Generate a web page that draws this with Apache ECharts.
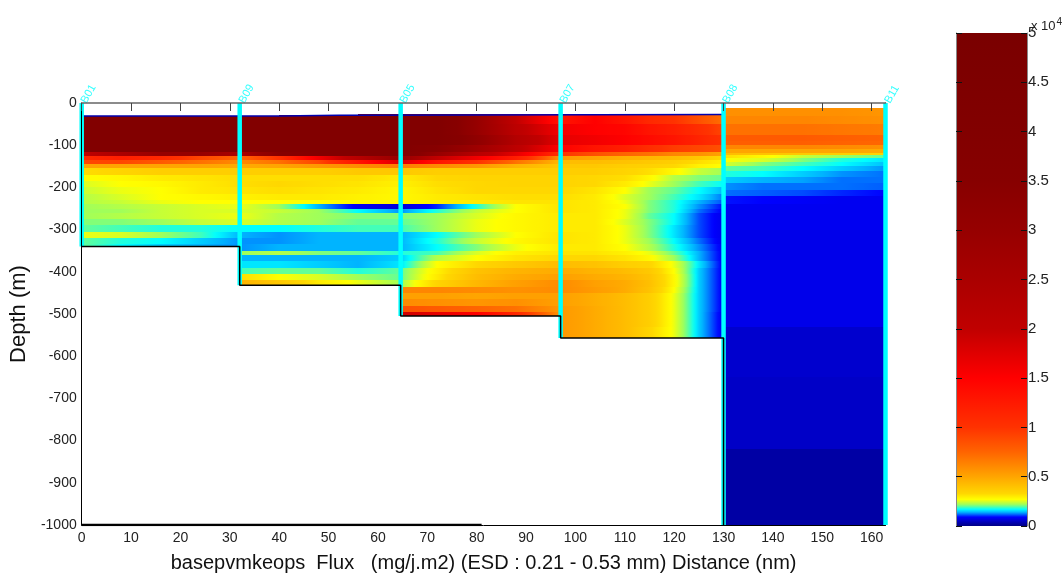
<!DOCTYPE html>
<html><head><meta charset="utf-8">
<style>html,body{margin:0;padding:0;background:#fff}#c{width:1064px;height:580px}</style>
<script src="https://cdn.jsdelivr.net/npm/echarts@6/dist/echarts.min.js"></script>
</head><body><div id="c"></div>
<script>
const n = null;
// Flux in units of 100 mg/j.m2 (colour bar 0-5 x 10^4 = 0-500 units)
const stations = ['B01','B09','B05','B07','B08','B11'];
const stationX = [0,32,64.6,97,130,162.8];
const stationBottom = [340,432,505,557,1000,1000];
const xTickLabels = [0,10,20,30,40,50,60,70,80,90,100,110,120,130,140,150,160];
// [value, colour] colour table
const colorValues = [0,3,6.5,9,12,14,17,20,22,27,33,50,75,100,150,200,250,300,350,400,500];
const colorHex = ['#000084','#0000aa','#0000dc','#0000ff','#0070ff','#00b4ff','#00ffff','#64ff96','#a0ff5a','#ffff00','#ffd700','#ffa500','#ff6400','#ff3200','#ff0000','#c00000','#aa0000','#960000','#870000','#820000','#7a0000'];

const westX = [0,8,16,24,32,40,48,56,64.6,72,80,88,97,104,110,115,120,125,130];
const westSpanTop = [31,31,31,31,31,28.5,28,27,27,27,27,27,27,27,27,27,27,27];
const westSpanBottom = [340,340,340,340,432,432,432,432,505,505,505,505,557,557,557,557,557,557];
const westEdges = [27,50,75,100,115,125,135,145,155,170,185,200,215,230,240,250,260,275,290,305,320,335,350,360,375,390,405,420,435,450,465,480,495,505,530,557];
const westFlux = [
[400,400,400,400,400,400,400,400,400,400,300,200,130,150,130,110,100,85,70],
[400,400,400,400,400,400,400,400,400,400,300,210,160,150,145,130,120,105,90],
[400,400,400,400,400,400,400,400,400,400,320,230,170,160,150,140,130,115,100],
[400,400,400,400,400,400,400,400,400,350,280,210,150,130,120,105,95,90,85],
[200,250,300,300,250,350,400,400,400,300,220,170,100,85,75,70,62,58,50],
[110,120,110,90,75,100,160,220,300,200,160,120,55,50,46,44,42,38,32],
[90,90,80,70,60,70,90,130,180,130,100,70,42,42,40,38,36,32,29],
[50,50,50,50,48,50,55,60,65,60,55,45,38,38,36,35,33,29,27],
[32,34,36,36,36,36,36,38,38,36,36,36,36,36,34,32,28,24,22],
[27,28,30,31,32,32,32,32,30,33,34,34,34,33,32,28,23,21,20],
[25,27,28,30,32,33,32,31,29,32,33,34,34,33,30,26,22,19,17],
[24,26,27,30,31,32,31,30,28,31,33,33,33,31,27,22,20,17,14],
[23,25,27,28,29,30,30,29,28,30,31,32,32,30,25,22,19,16,12],
[23,24,26,27,27,27,27,28,28,29,30,31,31,30,26,21,18,14,11],
[22,23,24,25,26,22,14,8,6,10,18,27,31,30,27,21,18,13,9],
[22,22,24,25,25,24,22,17,13,18,24,27,31,30,26,21,18,12,8.5],
[22,23,24,25,26,23,22,21,21,22,25,28,30,30,26,20,17,11,7.5],
[21,21,22,24,25,23,22,20,20,22,26,28,30,30,25,21,17,11,7.5],
[20,19,18,18,17,17,18,19,19,22,26,28,30,30,26,21,16,11,7.5],
[26,25,22,19,14,13,14,14,14,17,22,27,31,30,26,21,16,11,7.5],
[20,18,17,15,13,13,14,14,14,18,24,28,31,30,26,22,17,12,7.5],
[20,17,15,14,13,14,14,14,14,17,21,26,30,30,27,23,18,13,8],
[n,n,n,n,22,23,21,20,18,19,25,29,31,31,29,26,20,14,8],
[n,n,n,n,14,14,14,14,15,23,27,31,33,33,31,28,22,14,8],
[n,n,n,n,16,16,15,14,16,27,33,38,42,40,36,34,26,16,8],
[n,n,n,n,19,20,20,18,20,29,40,45,48,45,42,38,27,15,8],
[n,n,n,n,32,27,25,22,20,30,42,48,52,48,45,40,28,15,8],
[n,n,n,n,45,38,30,26,22,34,44,52,60,52,48,41,28,15,8],
[n,n,n,n,n,n,n,n,62,62,60,58,60,54,48,40,27,15,8],
[n,n,n,n,n,n,n,n,52,52,50,52,52,47,42,36,26,15,8],
[n,n,n,n,n,n,n,n,60,58,56,58,52,47,42,36,26,15,8],
[n,n,n,n,n,n,n,n,85,80,75,70,55,48,42,36,26,15,8],
[n,n,n,n,n,n,n,n,190,170,150,110,55,48,42,36,26,15,7.5],
[n,n,n,n,n,n,n,n,n,n,n,n,55,48,42,36,26,15,7.5],
[n,n,n,n,n,n,n,n,n,n,n,n,55,48,42,34,26,15,7.5]
];

const eastX = [130,138,146,154,162.8];
const eastEdges = [12,30,50,75,90,100,110,118,124,130,140,150,160,175,190,205,220,240,300,420,530,650,820,1000];
const eastFlux = [
[58,58,58,58,56],
[62,62,62,60,58],
[70,70,70,68,66],
[80,80,80,78,76],
[78,78,78,76,74],
[62,62,62,60,58],
[50,50,50,50,48],
[42,40,38,36,34],
[32,28,24,22,20],
[27,25,21,18,16],
[25,21,19,17,14.5],
[20,19,17,15,13],
[18,17,15,13,12],
[15,14,13.5,12,12],
[13,12,12,12,11.5],
[12,11.5,11,10,9],
[9.5,9,8.5,8,8],
[8,8,8,8,8],
[7.5,7.5,7.5,7.5,7.5],
[7.5,7.5,7.5,7.5,7.5],
[5.5,5.5,5.5,5.5,5.5],
[5,5,5,5,5],
[2.5,2.5,2.5,2.5,2.5]
];
const topLineX = [0,40,40,52,52,130];
const topLineDepth = [31,31,29,29,27,27];
const bottomLineX = [0,32,32,64.6,64.6,97,97,130,130];
const bottomLineDepth = [340,340,432,432,505,505,557,557,1000];
const seabedX = [0,81];
const seabedDepth = [1000,1000];

function hex(h){return [1,3,5].map(i=>parseInt(h.substr(i,2),16));}
function col(v){
  if(v<=colorValues[0])return colorHex[0];
  for(let i=1;i<colorValues.length;i++){
    if(v<=colorValues[i]){
      const t=(v-colorValues[i-1])/(colorValues[i]-colorValues[i-1]);
      const a=hex(colorHex[i-1]),b=hex(colorHex[i]);
      return 'rgb('+a.map((c,k)=>Math.round(c+(b[k]-c)*t)).join(',')+')';
    }
  }
  return colorHex[colorHex.length-1];
}
// cell shading: the colour across a cell follows the colour scale between its two read values
function shade(v0,v1){
  const stops=[];
  for(let k=0;k<=8;k++){stops.push({offset:k/8,color:col(v0+(v1-v0)*k/8)});}
  return {type:'linear',x:0,y:0,x2:1,y2:0,colorStops:stops};
}
const cells=[];
westFlux.forEach((row,r)=>{
  for(let i=0;i<westX.length-1;i++){
    if(row[i]===n||row[i+1]===n)continue;
    const d0=Math.max(westEdges[r],westSpanTop[i]),d1=Math.min(westEdges[r+1],westSpanBottom[i]);
    if(d1<=d0)continue;
    cells.push([westX[i],westX[i+1],-d0,-d1,row[i],row[i+1]]);
  }
});
eastFlux.forEach((row,r)=>{
  for(let i=0;i<eastX.length-1;i++){
    cells.push([eastX[i],eastX[i+1],-eastEdges[r],-eastEdges[r+1],row[i],row[i+1]]);
  }
});
const tickFont={fontFamily:'Liberation Sans, Arial, sans-serif',fontSize:14,color:'#222'};
const stationSeries=stationX.map((x,i)=>({
  type:'line',xAxisIndex:0,yAxisIndex:0,silent:true,symbol:'none',z:6,
  data:[[x,0],[x,-stationBottom[i]]],
  lineStyle:{color:'#00ffff',width:4.5,cap:'butt'}
}));
const lab=(arrX,arrD)=>arrX.map((x,i)=>[x,-arrD[i]]);
const option={
  animation:false,
  backgroundColor:'#fff',
  title:{text:'x 10{s|4}',left:1026,top:12,textStyle:{fontFamily:'Liberation Sans',fontSize:13,fontWeight:'normal',color:'#222',
    rich:{s:{fontFamily:'Liberation Sans',fontSize:10,color:'#222',verticalAlign:'top',padding:[0,0,8,1]}}}},
  grid:[
    {left:81.5,top:103,width:804,height:422,containLabel:false},
    {left:956,top:33,width:71,height:493}
  ],
  xAxis:[
    {type:'value',gridIndex:0,min:0,max:162.8,position:'bottom',z:9,
      name:'basepvmkeops  Flux   (mg/j.m2) (ESD : 0.21 - 0.53 mm) Distance (nm)',nameLocation:'middle',nameGap:28,
      nameTextStyle:{fontFamily:'Liberation Sans',fontSize:20,color:'#111'},
      axisLine:{show:true,onZero:false,lineStyle:{color:'#000',width:1}},axisTick:{show:false},splitLine:{show:false},
      axisLabel:Object.assign({customValues:xTickLabels,margin:6},tickFont)},
    {type:'value',gridIndex:0,min:0,max:162.8,position:'top',z:9,
      axisLine:{show:true,onZero:false,lineStyle:{color:'#666',width:1.5}},
      axisTick:{show:true,inside:true,length:8,lineStyle:{color:'#444'},customValues:xTickLabels},
      axisLabel:{show:false},splitLine:{show:false}},
    {type:'value',gridIndex:1,min:0,max:1,show:false}
  ],
  yAxis:[
    {type:'value',gridIndex:0,min:-1000,max:0,interval:100,position:'left',z:9,
      name:'Depth (m)',nameLocation:'middle',nameGap:43,
      nameTextStyle:{fontFamily:'Liberation Sans',fontSize:22,color:'#111'},
      axisLine:{show:true,onZero:false,lineStyle:{color:'#000',width:1}},axisTick:{show:false},splitLine:{show:false},
      axisLabel:Object.assign({margin:5,formatter:v=>String(v)},tickFont)},
    {type:'value',gridIndex:0,min:-1000,max:0,interval:100,position:'right',
      axisLine:{show:true,onZero:false,lineStyle:{color:'#000'}},axisTick:{show:false},axisLabel:{show:false},splitLine:{show:false}},
    {type:'value',gridIndex:1,min:0,max:500,interval:50,position:'right',z:9,
      axisLine:{show:true,onZero:false,lineStyle:{color:'#888',width:1}},
      axisTick:{show:true,inside:true,length:6,lineStyle:{color:'#111'}},
      axisLabel:Object.assign({margin:1,formatter:v=>String(v/100)},tickFont,{fontSize:15}),splitLine:{show:false}},
    {type:'value',gridIndex:1,min:0,max:500,interval:50,position:'left',z:9,
      axisLine:{show:true,onZero:false,lineStyle:{color:'#888',width:1}},
      axisTick:{show:true,inside:true,length:6,lineStyle:{color:'#111'}},axisLabel:{show:false},splitLine:{show:false}}
  ],
  series:[
    {type:'custom',xAxisIndex:0,yAxisIndex:0,silent:true,z:2,clip:true,data:cells,
      encode:{x:[0,1],y:[2,3]},
      renderItem:(p,api)=>{
        const a=api.coord([api.value(0),api.value(2)]),b=api.coord([api.value(1),api.value(3)]);
        const x0=Math.round(a[0]),y0=Math.round(a[1]),x1=Math.round(b[0]),y1=Math.round(b[1]);
        return {type:'rect',shape:{x:x0,y:y0,width:x1-x0,height:y1-y0},
          style:{fill:shade(api.value(4),api.value(5))}};
      }},
    {type:'custom',xAxisIndex:2,yAxisIndex:2,silent:true,z:2,data:[[0,1,0,500]],
      encode:{x:[0,1],y:[2,3]},
      renderItem:(p,api)=>{
        const a=api.coord([api.value(0),api.value(3)]),b=api.coord([api.value(1),api.value(2)]);
        return {type:'rect',shape:{x:a[0],y:a[1],width:b[0]-a[0],height:b[1]-a[1]},
          style:{fill:{type:'linear',x:0,y:1,x2:0,y2:0,
            colorStops:colorValues.map((v,i)=>({offset:v/500,color:colorHex[i]}))}}};
      }},
    {type:'line',xAxisIndex:0,yAxisIndex:0,silent:true,symbol:'none',z:5,data:lab(topLineX,topLineDepth),lineStyle:{color:'#0000b0',width:1.5}},
    {type:'line',xAxisIndex:0,yAxisIndex:0,silent:true,symbol:'none',z:7,data:lab(bottomLineX,bottomLineDepth),lineStyle:{color:'#000',width:1.5}},
    {type:'line',xAxisIndex:0,yAxisIndex:0,silent:true,symbol:'none',z:7,data:lab(seabedX,seabedDepth),lineStyle:{color:'#000',width:2.5}},
    ...stationSeries,
    {type:'scatter',xAxisIndex:0,yAxisIndex:0,silent:true,symbolSize:0,z:8,clip:false,
      data:stationX.map((x,i)=>({value:[x,0],name:stations[i]})),
      label:{show:true,formatter:'{b}',position:'right',rotate:60,align:'left',verticalAlign:'middle',offset:[-1,-3],
        fontFamily:'Liberation Sans',fontSize:11,color:'#00ffff'}}
  ]
};
echarts.init(document.getElementById('c'),null,{renderer:'canvas'}).setOption(option);
</script></body></html>
